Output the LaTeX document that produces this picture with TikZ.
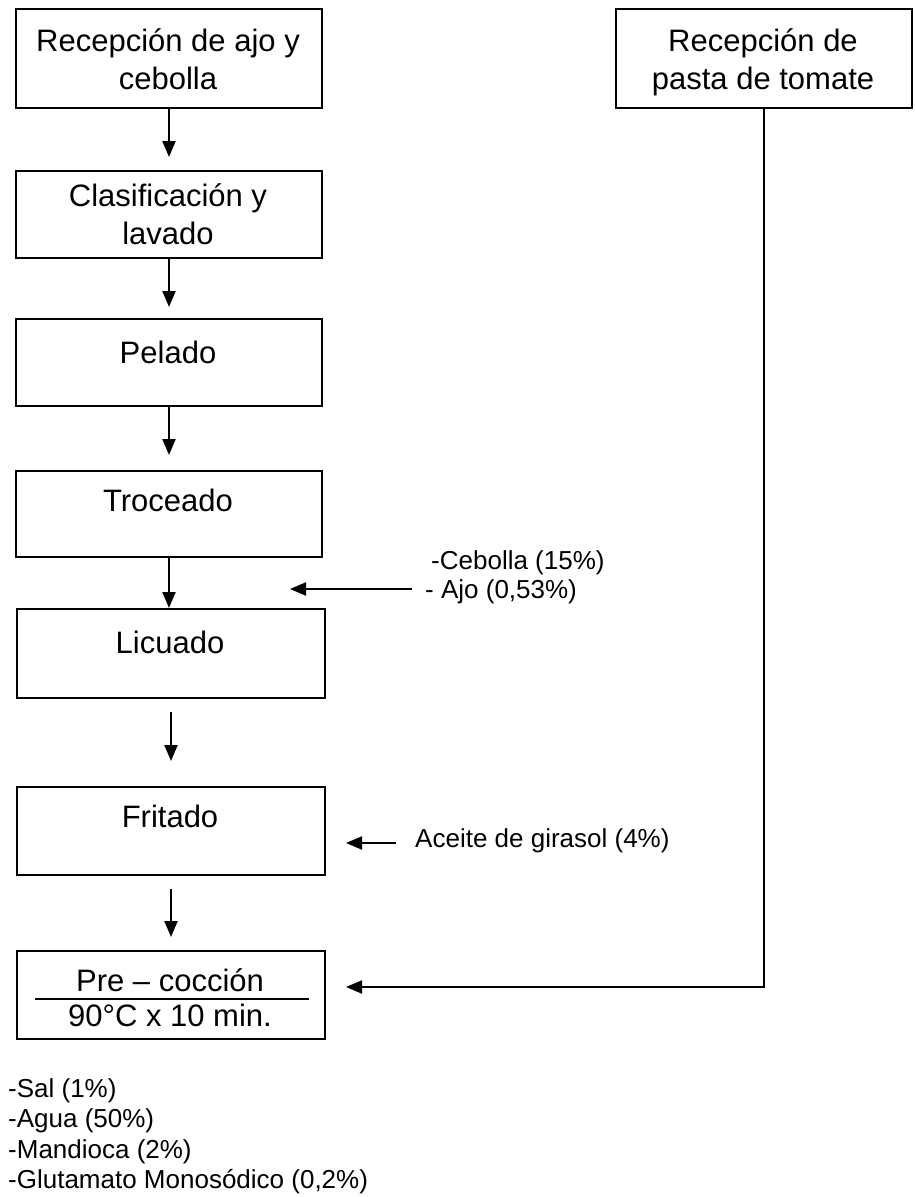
\documentclass[tikz,border=0pt]{standalone}
\usepackage{fontspec}
\setmainfont{Liberation Sans}
\usetikzlibrary{arrows.meta}
\begin{document}
\begin{tikzpicture}[x=1pt,y=1pt,
  stepbox/.style={draw, line width=2pt, inner sep=0pt, anchor=north west},
  boxtext/.style={font=\fontsize{31}{38}\selectfont, align=center, inner sep=0pt, anchor=base},
  sidetext/.style={font=\fontsize{26}{30.5}\selectfont, align=left, inner sep=0pt, anchor=base west},
  arr/.style={line width=2.1pt, -{Triangle[length=16pt,width=13pt]}}]
\useasboundingbox (0,0) rectangle (914,-1197);

% process boxes, left column
\node[stepbox, minimum width=306pt, minimum height=99pt] (b1) at (15,-8) {};
\node[stepbox, minimum width=306pt, minimum height=87pt] (b2) at (15,-170) {};
\node[stepbox, minimum width=306pt, minimum height=87pt] (b3) at (15,-318) {};
\node[stepbox, minimum width=306pt, minimum height=86pt] (b4) at (15,-470) {};
\node[stepbox, minimum width=308pt, minimum height=89pt] (b5) at (16,-608) {};
\node[stepbox, minimum width=308pt, minimum height=88pt] (b6) at (16,-786) {};
\node[stepbox, minimum width=308pt, minimum height=88pt] (b7) at (16,-950) {};
% tomato paste reception
\node[stepbox, minimum width=296pt, minimum height=99pt] (rb) at (615,-8) {};

% box labels
\node[boxtext] (t1) at (168,-51) {Recepción de ajo y};
\node[boxtext] (t1b) at (168,-89) {cebolla};
\node[boxtext] (r1) at (763,-51) {Recepción de};
\node[boxtext] (r1b) at (763,-89) {pasta de tomate};
\node[boxtext] (t2) at (168,-206) {Clasificación y};
\node[boxtext] (t2b) at (168,-244) {lavado};
\node[boxtext] (t3) at (168,-363) {Pelado};
\node[boxtext] (t4) at (168,-511) {Troceado};
\node[boxtext] (t5) at (170,-653) {Licuado};
\node[boxtext] (t6) at (170,-827) {Fritado};
\node[boxtext] (t7) at (170,-991) {Pre – cocción};
\node[boxtext] (t7b) at (170,-1026) {90°C x 10 min.};
\draw[line width=2.8pt] (35,-999) -- (309,-999);

% main flow
\draw[arr, shorten >=13pt] (b1.south) -- (b2.north);
\draw[arr, shorten >=11pt] (b2.south) -- (b3.north);
\draw[arr, shorten >=15pt] (b3.south) -- (b4.north);
\draw[arr] (b4.south) -- (b4.south |- b5.north);
\draw[arr, shorten <=13pt, shorten >=25pt] (b5.south) -- (b6.north);
\draw[arr, shorten <=13pt, shorten >=13pt] (b6.south) -- (b7.north);

% tomato paste joins at pre-cooking
\coordinate (pin) at (346,-987);
\draw[arr] (rb.south) |- (pin);

% ingredient additions
\node[sidetext] (ing1) at (431,-569) {-Cebolla (15\%)};
\node[sidetext] (ing2) at (425,-598) {- Ajo (0,53\%)};
\coordinate (a1s) at (412,-589);
\coordinate (a1e) at (290,-589);
\draw[arr] (a1s) -- (a1e);

\node[sidetext] (ing3) at (415,-847) {Aceite de girasol (4\%)};
\coordinate (a2s) at (396,-843);
\coordinate (a2e) at (346,-843);
\draw[arr] (a2s) -- (a2e);

\node[sidetext, anchor=north west, align=left] (ing4) at (8,-1078) {-Sal (1\%)\\-Agua (50\%)\\-Mandioca (2\%)\\-Glutamato Monosódico (0,2\%)};
\end{tikzpicture}
\end{document}
